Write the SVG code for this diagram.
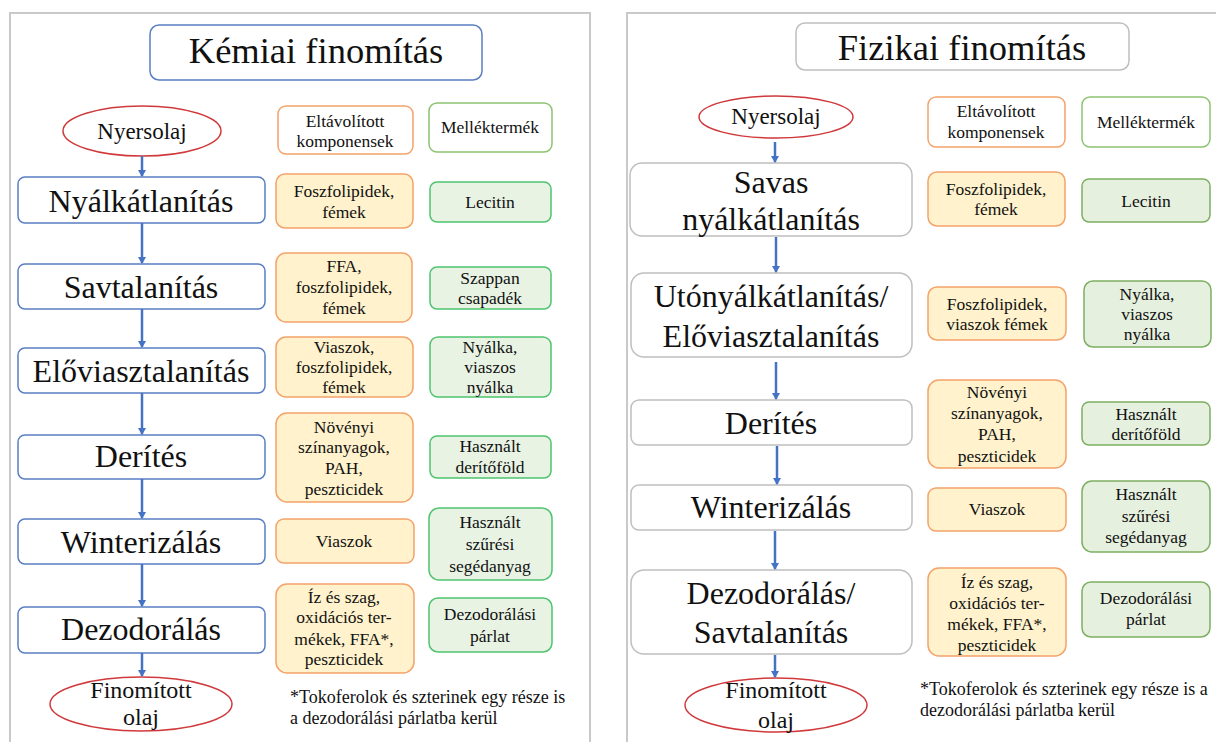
<svg xmlns="http://www.w3.org/2000/svg" width="1216" height="742" viewBox="0 0 1216 742">
<defs>
<marker id="ah" markerWidth="8" markerHeight="8" refX="6" refY="4" orient="auto" markerUnits="userSpaceOnUse">
<path d="M0,0 L7,4 L0,8 Z" fill="#4472C4"/>
</marker>
<style>
text{font-family:"Liberation Serif","Times New Roman",serif;fill:#111;}
.panel{fill:#fff;stroke:#C9C9C9;stroke-width:2;}
.title{fill:#fff;stroke-width:1.5;}
.tt{font-size:36.5px;text-anchor:middle;}
.stepL{fill:#fff;stroke:#5A7DC4;stroke-width:1.5;}
.stepR{fill:#fff;stroke:#BFBFBF;stroke-width:1.5;}
.st{font-size:32px;text-anchor:middle;}
.ell{fill:#fff;stroke:#D0393B;stroke-width:1.5;}
.et{font-size:23px;text-anchor:middle;}
.oh{fill:#fff;stroke:#F4A36A;stroke-width:1.5;}
.gh{fill:#fff;stroke:#8CC370;stroke-width:1.5;}
.ob{fill:#FFF2CC;stroke:#F4A36A;stroke-width:1.5;}
.gbL{fill:#E8F3E4;stroke:#4EC46E;stroke-width:1.5;}
.gbR{fill:#E6F0DF;stroke:#7DAF62;stroke-width:1.5;}
.bt{font-size:17.5px;text-anchor:middle;}
.fn{font-size:18px;}
.conn line{stroke:#4472C4;stroke-width:2.5;marker-end:url(#ah);}
</style>
</defs>
<rect x="0" y="0" width="1216" height="742" fill="#fff"/>
<rect class="panel" x="10" y="13" width="580" height="740"/>
<rect class="panel" x="627" y="13" width="600" height="740"/>

<!-- LEFT PANEL -->
<g id="titleL"><rect class="title" x="150" y="25" width="332" height="55" rx="9" stroke="#5A7DC4"/><text class="tt" x="316" y="63">Kémiai finomítás</text></g>
<g id="nyersL"><ellipse class="ell" cx="142" cy="131" rx="79" ry="25"/><text class="et" x="142" y="139">Nyersolaj</text></g>
<g id="hdrOL"><rect class="oh" x="278" y="106" width="135" height="48" rx="8"/><text class="bt" x="345" y="127">Eltávolított</text><text class="bt" x="345" y="147">komponensek</text></g>
<g id="hdrGL"><rect class="gh" x="429" y="103" width="123" height="49" rx="8"/><text class="bt" x="490" y="133">Melléktermék</text></g>

<g id="s1L"><rect class="stepL" x="18" y="177" width="247" height="46" rx="7"/><text class="st" x="141" y="212">Nyálkátlanítás</text></g>
<g id="o1L"><rect class="ob" x="276" y="174" width="137" height="54" rx="9"/><text class="bt" x="344" y="197">Foszfolipidek,</text><text class="bt" x="344" y="218">fémek</text></g>
<g id="g1L"><rect class="gbL" x="430" y="182" width="121" height="40" rx="7"/><text class="bt" x="490" y="208">Lecitin</text></g>

<g id="s2L"><rect class="stepL" x="18" y="264" width="247" height="45" rx="7"/><text class="st" x="141" y="298">Savtalanítás</text></g>
<g id="o2L"><rect class="ob" x="276" y="253" width="136" height="69" rx="10"/><text class="bt" x="344" y="272">FFA,</text><text class="bt" x="344" y="293">foszfolipidek,</text><text class="bt" x="344" y="314">fémek</text></g>
<g id="g2L"><rect class="gbL" x="430" y="267" width="121" height="42" rx="7"/><text class="bt" x="490" y="284">Szappan</text><text class="bt" x="490" y="304">csapadék</text></g>

<g id="s3L"><rect class="stepL" x="18" y="348" width="247" height="45" rx="7"/><text class="st" x="141" y="382">Előviasztalanítás</text></g>
<g id="o3L"><rect class="ob" x="276" y="337" width="137" height="60" rx="10"/><text class="bt" x="344" y="353">Viaszok,</text><text class="bt" x="344" y="373">foszfolipidek,</text><text class="bt" x="344" y="393">fémek</text></g>
<g id="g3L"><rect class="gbL" x="430" y="337" width="121" height="60" rx="8"/><text class="bt" x="490" y="353">Nyálka,</text><text class="bt" x="490" y="373">viaszos</text><text class="bt" x="490" y="393">nyálka</text></g>

<g id="s4L"><rect class="stepL" x="18" y="435" width="247" height="44" rx="7"/><text class="st" x="141" y="467">Derítés</text></g>
<g id="o4L"><rect class="ob" x="276" y="413" width="137" height="89" rx="11"/><text class="bt" x="344" y="433">Növényi</text><text class="bt" x="344" y="453">színanyagok,</text><text class="bt" x="344" y="474">PAH,</text><text class="bt" x="344" y="495">peszticidek</text></g>
<g id="g4L"><rect class="gbL" x="430" y="436" width="121" height="42" rx="7"/><text class="bt" x="490" y="452">Használt</text><text class="bt" x="490" y="473">derítőföld</text></g>

<g id="s5L"><rect class="stepL" x="18" y="519" width="247" height="45" rx="7"/><text class="st" x="141" y="553">Winterizálás</text></g>
<g id="o5L"><rect class="ob" x="276" y="519" width="138" height="44" rx="8"/><text class="bt" x="344" y="547">Viaszok</text></g>
<g id="g5L"><rect class="gbL" x="429" y="508" width="123" height="72" rx="10"/><text class="bt" x="490" y="528">Használt</text><text class="bt" x="490" y="550">szűrési</text><text class="bt" x="490" y="572">segédanyag</text></g>

<g id="s6L"><rect class="stepL" x="18" y="607" width="247" height="46" rx="7"/><text class="st" x="141" y="640">Dezodorálás</text></g>
<g id="o6L"><rect class="ob" x="276" y="584" width="138" height="89" rx="11"/><text class="bt" x="344" y="603">Íz és szag,</text><text class="bt" x="344" y="623">oxidációs ter-</text><text class="bt" x="344" y="645">mékek, FFA*,</text><text class="bt" x="344" y="665">peszticidek</text></g>
<g id="g6L"><rect class="gbL" x="429" y="598" width="123" height="54" rx="9"/><text class="bt" x="490" y="620">Dezodorálási</text><text class="bt" x="490" y="642">párlat</text></g>

<g id="finL"><ellipse class="ell" cx="141" cy="704" rx="91" ry="27"/><text class="et" x="141" y="698" style="font-size:24px">Finomított</text><text class="et" x="141" y="725" style="font-size:24px">olaj</text></g>
<g id="noteL"><text class="fn" x="290" y="703">*Tokoferolok és szterinek egy része is</text><text class="fn" x="290" y="724">a dezodorálási párlatba kerül</text></g>

<!-- RIGHT PANEL -->
<g id="titleR"><rect class="title" x="796" y="23" width="333" height="47" rx="9" stroke="#BFBFBF"/><text class="tt" x="962" y="60">Fizikai finomítás</text></g>
<g id="nyersR"><ellipse class="ell" cx="776" cy="117" rx="77" ry="21"/><text class="et" x="776" y="124">Nyersolaj</text></g>
<g id="hdrOR"><rect class="oh" x="928" y="97" width="137" height="50" rx="8"/><text class="bt" x="996" y="117">Eltávolított</text><text class="bt" x="996" y="138">komponensek</text></g>
<g id="hdrGR"><rect class="gh" x="1082" y="97" width="128" height="50" rx="8"/><text class="bt" x="1146" y="128">Melléktermék</text></g>

<g id="s1R"><rect class="stepR" x="630" y="163" width="282" height="73" rx="12"/><text class="st" x="771" y="193">Savas</text><text class="st" x="771" y="230">nyálkátlanítás</text></g>
<g id="o1R"><rect class="ob" x="928" y="172" width="137" height="54" rx="9"/><text class="bt" x="996" y="195">Foszfolipidek,</text><text class="bt" x="996" y="215">fémek</text></g>
<g id="g1R"><rect class="gbR" x="1082" y="179" width="128" height="43" rx="7"/><text class="bt" x="1146" y="207">Lecitin</text></g>

<g id="s2R"><rect class="stepR" x="631" y="273" width="281" height="84" rx="13"/><text class="st" x="771" y="307">Utónyálkátlanítás/</text><text class="st" x="771" y="347">Előviasztalanítás</text></g>
<g id="o2R"><rect class="ob" x="928" y="287" width="138" height="53" rx="9"/><text class="bt" x="997" y="310">Foszfolipidek,</text><text class="bt" x="997" y="330">viaszok fémek</text></g>
<g id="g2R"><rect class="gbR" x="1084" y="281" width="127" height="66" rx="9"/><text class="bt" x="1147" y="300">Nyálka,</text><text class="bt" x="1147" y="320">viaszos</text><text class="bt" x="1147" y="340">nyálka</text></g>

<g id="s3R"><rect class="stepR" x="631" y="400" width="281" height="45" rx="8"/><text class="st" x="771" y="434">Derítés</text></g>
<g id="o3R"><rect class="ob" x="928" y="380" width="138" height="88" rx="11"/><text class="bt" x="997" y="398">Növényi</text><text class="bt" x="997" y="419">színanyagok,</text><text class="bt" x="997" y="440">PAH,</text><text class="bt" x="997" y="462">peszticidek</text></g>
<g id="g3R"><rect class="gbR" x="1082" y="402" width="128" height="43" rx="7"/><text class="bt" x="1146" y="420">Használt</text><text class="bt" x="1146" y="440">derítőföld</text></g>

<g id="s4R"><rect class="stepR" x="631" y="485" width="281" height="45" rx="8"/><text class="st" x="771" y="518">Winterizálás</text></g>
<g id="o4R"><rect class="ob" x="928" y="488" width="138" height="43" rx="8"/><text class="bt" x="997" y="515">Viaszok</text></g>
<g id="g4R"><rect class="gbR" x="1082" y="481" width="128" height="71" rx="10"/><text class="bt" x="1146" y="500">Használt</text><text class="bt" x="1146" y="522">szűrési</text><text class="bt" x="1146" y="543">segédanyag</text></g>

<g id="s5R"><rect class="stepR" x="631" y="570" width="281" height="84" rx="13"/><text class="st" x="771" y="604">Dezodorálás/</text><text class="st" x="771" y="643">Savtalanítás</text></g>
<g id="o5R"><rect class="ob" x="928" y="568" width="138" height="88" rx="11"/><text class="bt" x="997" y="588">Íz és szag,</text><text class="bt" x="997" y="609">oxidációs ter-</text><text class="bt" x="997" y="630">mékek, FFA*,</text><text class="bt" x="997" y="651">peszticidek</text></g>
<g id="g5R"><rect class="gbR" x="1082" y="582" width="128" height="55" rx="9"/><text class="bt" x="1146" y="604">Dezodorálási</text><text class="bt" x="1146" y="625">párlat</text></g>

<g id="finR"><ellipse class="ell" cx="776" cy="705" rx="91" ry="27"/><text class="et" x="776" y="698" style="font-size:24px">Finomított</text><text class="et" x="776" y="728" style="font-size:24px">olaj</text></g>
<g id="noteR"><text class="fn" x="920" y="695">*Tokoferolok és szterinek egy része is a</text><text class="fn" x="920" y="716">dezodorálási párlatba kerül</text></g>

<g id="connectors" class="conn">
<line x1="142" y1="156" x2="142" y2="176"/>
<line x1="142" y1="223" x2="142" y2="263"/>
<line x1="142" y1="309" x2="142" y2="347"/>
<line x1="142" y1="393" x2="142" y2="434"/>
<line x1="142" y1="479" x2="142" y2="518"/>
<line x1="142" y1="564" x2="142" y2="606"/>
<line x1="142" y1="653" x2="142" y2="676"/>
<line x1="775" y1="142" x2="775" y2="162"/>
<line x1="776" y1="237" x2="776" y2="272"/>
<line x1="776" y1="362" x2="776" y2="399"/>
<line x1="777" y1="446" x2="777" y2="484"/>
<line x1="775" y1="531" x2="775" y2="569"/>
<line x1="775" y1="655" x2="775" y2="677"/>
</g>
</svg>
